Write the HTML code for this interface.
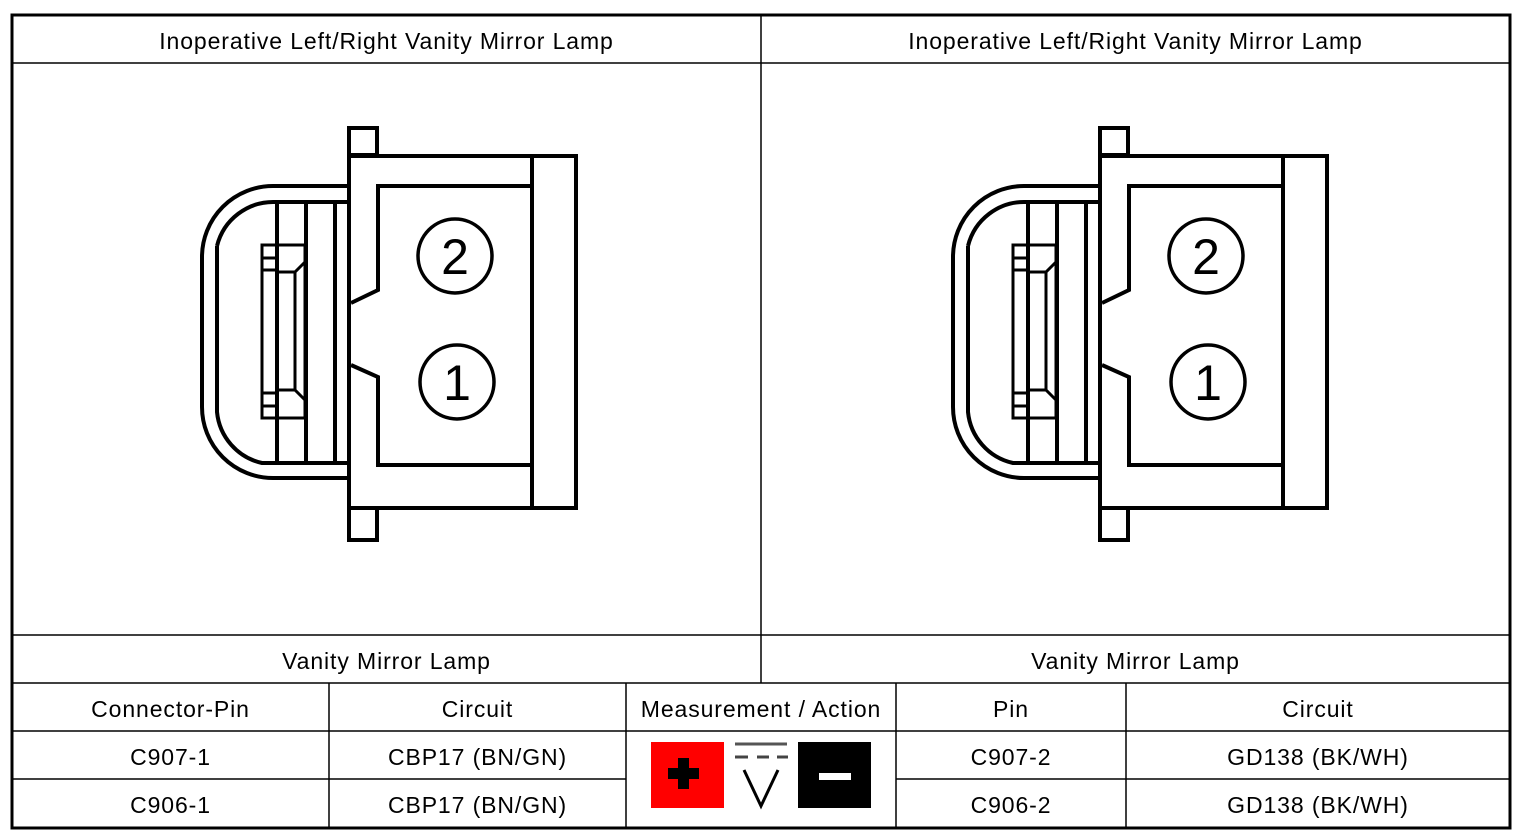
<!DOCTYPE html>
<html><head><style>
body{margin:0;background:#fff;width:1526px;height:838px;overflow:hidden;font-family:"Liberation Sans",sans-serif}
.t{position:absolute;font-size:23px;letter-spacing:0.9px;color:#000;text-align:center;line-height:50px}
</style></head><body>
<svg width="1526" height="838" style="position:absolute;left:0;top:0">
<defs>
<g id="c" fill="none" stroke="#000" stroke-width="4">
<rect x="349" y="128" width="28" height="27"/>
<rect x="349" y="508" width="28" height="32"/>
<rect x="349" y="156" width="227" height="352"/>
<line x1="532" y1="156" x2="532" y2="508"/>
<path d="M532 186 H378 V290 L351 303 M351 365 L378 377 V465 H532"/>
<path d="M349 186 H273 A71 71 0 0 0 202 257 V407 A71 71 0 0 0 273 478 H349"/>
<path d="M349 202 H275 A58 58 0 0 0 217 246 M217 246 V412 A58 58 0 0 0 262 463 H349"/>
<line x1="277" y1="202" x2="277" y2="463"/>
<line x1="306" y1="202" x2="306" y2="463"/>
<line x1="335" y1="202" x2="335" y2="463"/>
<rect x="262" y="245" width="43" height="173" stroke-width="3"/>
<path d="M262 258 H277 M262 270 H277 M262 393 H277 M262 406 H277 M277 272 H295 L305 262 M277 390 H295 L305 400 M295 272 V390" stroke-width="3"/>
<circle cx="455" cy="256" r="37" stroke-width="3.5"/>
<circle cx="457" cy="382" r="37" stroke-width="3.5"/>
</g>
</defs>
<use href="#c"/>
<use href="#c" x="751"/>
<text x="455" y="274" font-family="Liberation Sans" font-size="50" text-anchor="middle">2</text>
<text x="457" y="400" font-family="Liberation Sans" font-size="50" text-anchor="middle">1</text>
<text x="1206" y="274" font-family="Liberation Sans" font-size="50" text-anchor="middle">2</text>
<text x="1208" y="400" font-family="Liberation Sans" font-size="50" text-anchor="middle">1</text>
<g stroke="#000" stroke-width="1.5" fill="none">
<line x1="12" y1="63" x2="1510" y2="63"/>
<line x1="12" y1="635" x2="1510" y2="635"/>
<line x1="12" y1="683" x2="1510" y2="683"/>
<line x1="12" y1="731" x2="1510" y2="731"/>
<line x1="12" y1="779" x2="626" y2="779"/>
<line x1="896" y1="779" x2="1510" y2="779"/>
<line x1="761" y1="15" x2="761" y2="683"/>
<line x1="329" y1="683" x2="329" y2="828"/>
<line x1="626" y1="683" x2="626" y2="828"/>
<line x1="896" y1="683" x2="896" y2="828"/>
<line x1="1126" y1="683" x2="1126" y2="828"/>
</g>
<rect x="12" y="15" width="1498" height="813" fill="none" stroke="#000" stroke-width="3"/>
<rect x="651" y="742" width="73" height="66" fill="#f00"/>
<rect x="668" y="768" width="31" height="11" fill="#000"/>
<rect x="678" y="758" width="11" height="31" fill="#000"/>
<rect x="798" y="742" width="73" height="66" fill="#000"/>
<rect x="819" y="773" width="32" height="7" fill="#fff"/>
<line x1="735" y1="744" x2="787" y2="744" stroke="#555" stroke-width="3"/>
<path d="M735 757 H748 M757 757 H769 M777 757 H788" stroke="#444" stroke-width="3"/>
<path d="M744 770 L761 806 L778 770" stroke="#000" stroke-width="3" fill="none"/>
</svg>
<div class="t" style="left:12px;top:16px;width:749px">Inoperative Left/Right Vanity Mirror Lamp</div>
<div class="t" style="left:761px;top:16px;width:749px">Inoperative Left/Right Vanity Mirror Lamp</div>
<div class="t" style="left:12px;top:636px;width:749px">Vanity Mirror Lamp</div>
<div class="t" style="left:761px;top:636px;width:749px">Vanity Mirror Lamp</div>
<div class="t" style="left:12px;top:684px;width:317px">Connector-Pin</div>
<div class="t" style="left:329px;top:684px;width:297px">Circuit</div>
<div class="t" style="left:626px;top:684px;width:270px">Measurement / Action</div>
<div class="t" style="left:896px;top:684px;width:230px">Pin</div>
<div class="t" style="left:1126px;top:684px;width:384px">Circuit</div>
<div class="t" style="left:12px;top:732px;width:317px">C907-1</div>
<div class="t" style="left:329px;top:732px;width:297px">CBP17 (BN/GN)</div>
<div class="t" style="left:896px;top:732px;width:230px">C907-2</div>
<div class="t" style="left:1126px;top:732px;width:384px">GD138 (BK/WH)</div>
<div class="t" style="left:12px;top:780px;width:317px">C906-1</div>
<div class="t" style="left:329px;top:780px;width:297px">CBP17 (BN/GN)</div>
<div class="t" style="left:896px;top:780px;width:230px">C906-2</div>
<div class="t" style="left:1126px;top:780px;width:384px">GD138 (BK/WH)</div>
</body></html>
